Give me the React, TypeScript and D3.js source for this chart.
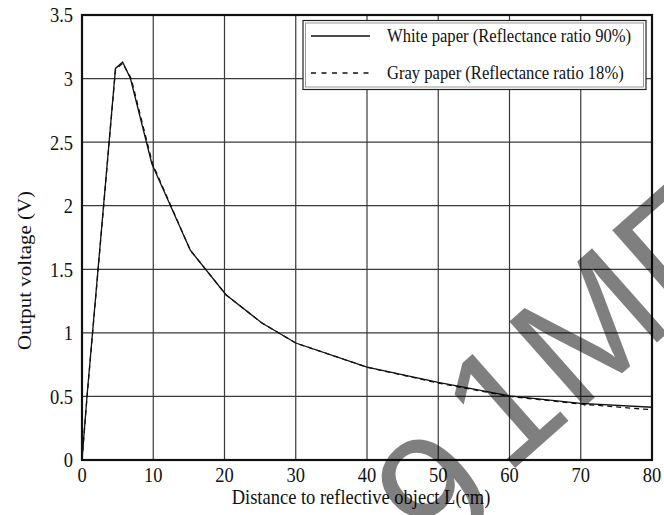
import React from "react";
import * as d3 from "d3";

// Output voltage vs. distance for two reflective targets
const whiteDistance = [0, 0.7, 4.7, 5.7, 6.8, 9.8, 15.2, 20.2, 25.2, 30, 40, 50, 60, 70, 80];
const whiteVoltage = [0, 0.5, 3.08, 3.13, 3.0, 2.33, 1.65, 1.3, 1.08, 0.92, 0.73, 0.61, 0.505, 0.445, 0.415];
const grayDistance = [0, 0.7, 4.7, 5.7, 6.9, 9.9, 15.2, 20.2, 25.2, 30, 40, 50, 60, 70, 80];
const grayVoltage = [0, 0.49, 3.07, 3.12, 3.0, 2.33, 1.65, 1.3, 1.08, 0.92, 0.73, 0.605, 0.5, 0.44, 0.395];

const xTicks = [0, 10, 20, 30, 40, 50, 60, 70, 80];
const yTicks = [0, 0.5, 1, 1.5, 2, 2.5, 3, 3.5];
const yTickLabels = ["0", "0.5", "1", "1.5", "2", "2.5", "3", "3.5"];

const seriesNames = ["White paper (Reflectance ratio 90%)", "Gray paper (Reflectance ratio 18%)"];
const xTitle = "Distance to reflective object L(cm)";
const yTitle = "Output voltage (V)";
const stampHead = "9";
const stampTail = "1МП";

const W = 664;
const H = 515;
const left = 82;
const right = 652;
const top = 15;
const bottom = 460;
const serif = "'Liberation Serif', 'Times New Roman', serif";
const stretch = 1.13;

export default function App() {
  const x = d3.scaleLinear().domain([0, 80]).range([left, right]);
  const y = d3.scaleLinear().domain([0, 3.5]).range([bottom, top]);

  const line = d3
    .line<[number, number]>()
    .x((d) => x(d[0]))
    .y((d) => y(d[1]));

  const whitePts = whiteDistance.map((d, i) => [d, whiteVoltage[i]] as [number, number]);
  const grayPts = grayDistance.map((d, i) => [d, grayVoltage[i]] as [number, number]);

  const gridColor = "#3a3a3a";

  return (
    <svg
      width={W}
      height={H}
      style={{ position: "absolute", left: 0, top: 0, background: "#fff" }}
      fontFamily={serif}
    >
      <rect x={0} y={0} width={W} height={H} fill="#fff" />

      {/* grid */}
      {xTicks.slice(1, -1).map((t) => (
        <line key={"gx" + t} x1={x(t)} x2={x(t)} y1={top} y2={bottom} stroke={gridColor} strokeWidth={1.2} />
      ))}
      {yTicks.slice(1, -1).map((t) => (
        <line key={"gy" + t} x1={left} x2={right} y1={y(t)} y2={y(t)} stroke={gridColor} strokeWidth={1.2} />
      ))}

      {/* curves */}
      <path d={line(grayPts) || ""} fill="none" stroke="#111" strokeWidth={1.3} strokeDasharray="5,4" />
      <path d={line(whitePts) || ""} fill="none" stroke="#111" strokeWidth={1.3} />

      {/* legend */}
      <rect x={303} y={20.5} width={343} height={69} fill="#fff" stroke="#222" strokeWidth={1.2} />
      <rect x={305.5} y={23} width={338} height={64} fill="none" stroke="#999" strokeWidth={1} />
      <line x1={311} x2={370} y1={36} y2={36} stroke="#111" strokeWidth={1.5} />
      <line x1={311} x2={370} y1={73} y2={73} stroke="#111" strokeWidth={1.5} strokeDasharray="5,5.5" />
      {seriesNames.map((s, i) => (
        <text
          key={s}
          transform={`translate(387,${[36, 73][i]}) scale(1,${stretch})`}
          fontSize={16.6}
          dominantBaseline="central"
          fill="#111"
        >
          {s}
        </text>
      ))}

      {/* frame */}
      <rect x={left} y={top} width={right - left} height={bottom - top} fill="none" stroke="#111" strokeWidth={2.2} />

      {/* tick labels */}
      {xTicks.map((t) => (
        <text
          key={"xl" + t}
          transform={`translate(${x(t)},${475}) scale(1,${stretch})`}
          fontSize={18.5}
          textAnchor="middle"
          dominantBaseline="central"
          fill="#111"
        >
          {t}
        </text>
      ))}
      {yTicks.map((t, i) => (
        <text
          key={"yl" + t}
          transform={`translate(73,${y(t)}) scale(1,${stretch})`}
          fontSize={18.5}
          textAnchor="end"
          dominantBaseline="central"
          fill="#111"
        >
          {yTickLabels[i]}
        </text>
      ))}

      {/* axis titles */}
      <text
        transform={`translate(361,497) scale(1,${stretch})`}
        fontSize={18.5}
        textAnchor="middle"
        dominantBaseline="central"
        fill="#111"
      >
        {xTitle}
      </text>
      <text
        transform={`translate(24,${(top + bottom) / 2 + 33}) scale(1,${stretch}) rotate(-90)`}
        fontSize={18.5}
        textAnchor="middle"
        dominantBaseline="central"
        fill="#111"
      >
        {yTitle}
      </text>

      {/* stamp */}
      <text
        transform="translate(437,537) rotate(-41.5)"
        fontFamily="'Liberation Sans', Arial, sans-serif"
        fontSize={165}
        fill="#000"
        fillOpacity={0.5}
      >
        <tspan dx={-18} dy={22}>
          {stampHead}
        </tspan>
        <tspan dx={18} dy={-22}>
          {stampTail}
        </tspan>
      </text>
    </svg>
  );
}
